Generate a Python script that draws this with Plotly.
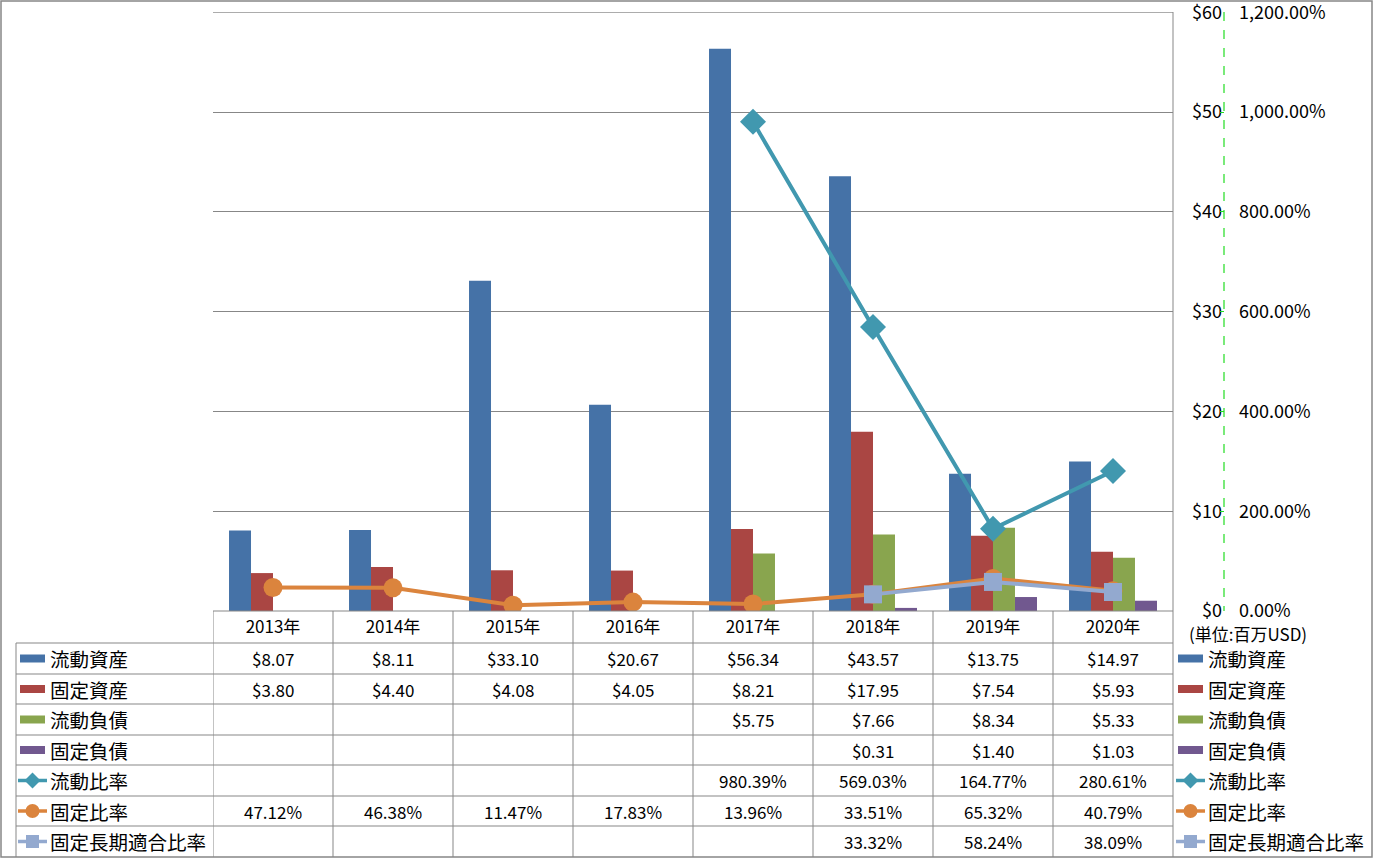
import plotly.graph_objects as go

W, H = 1373, 858

years = ["2013年", "2014年", "2015年", "2016年", "2017年", "2018年", "2019年", "2020年"]
current_assets = [8.07, 8.11, 33.10, 20.67, 56.34, 43.57, 13.75, 14.97]
fixed_assets = [3.80, 4.40, 4.08, 4.05, 8.21, 17.95, 7.54, 5.93]
current_liab = [None, None, None, None, 5.75, 7.66, 8.34, 5.33]
fixed_liab = [None, None, None, None, None, 0.31, 1.40, 1.03]
current_ratio = [None, None, None, None, 980.39, 569.03, 164.77, 280.61]
fixed_ratio = [47.12, 46.38, 11.47, 17.83, 13.96, 33.51, 65.32, 40.79]
fixed_lt_ratio = [None, None, None, None, None, 33.32, 58.24, 38.09]

usd_ticks = [0, 10, 20, 30, 40, 50, 60]
pct_ticks = [0, 200, 400, 600, 800, 1000, 1200]

names = ["流動資産", "固定資産", "流動負債", "固定負債", "流動比率", "固定比率", "固定長期適合比率"]
colors = ["#4572A7", "#AA4643", "#89A54E", "#71588F", "#4198AF", "#DB843D", "#93A9CF"]
unit_label = "(単位:百万USD)"

FONT = "Noto Sans CJK JP"
GRID = "#878787"

def px(x):
    return x / W

def py(y):
    return 1 - y / H

fig = go.Figure()
bar_series = [current_assets, fixed_assets, current_liab, fixed_liab]
for i, vals in enumerate(bar_series):
    fig.add_trace(go.Bar(x=years, y=vals, name=names[i], marker=dict(color=colors[i], line=dict(width=0)),
                         yaxis="y", showlegend=False))

line_series = [current_ratio, fixed_ratio, fixed_lt_ratio]
symbols = ["diamond", "circle", "square"]
msizes = [20, 19, 18]
for j, vals in enumerate(line_series):
    fig.add_trace(go.Scatter(x=years, y=vals, name=names[4 + j], mode="lines+markers",
                             line=dict(color=colors[4 + j], width=4),
                             marker=dict(symbol=symbols[j], size=msizes[j], color=colors[4 + j]),
                             yaxis="y2", showlegend=False, connectgaps=False))

shapes = []
annotations = []

# plot area geometry (pixels)
x0p, x1p = 213, 1173
ytop, ybot = 12, 611
axis_x = 1224
row_edges = [611, 643, 674, 704, 735, 765, 796, 826, 857]
line_style = dict(color=GRID, width=1)

# top gridline (at the max tick of the $ axis)
shapes.append(dict(type="line", xref="paper", yref="y", x0=px(x0p), x1=px(x1p), y0=usd_ticks[-1], y1=usd_ticks[-1],
                   line=line_style, layer="below"))
# table horizontal lines
shapes.append(dict(type="line", xref="paper", yref="paper", x0=px(x0p), x1=px(x1p), y0=py(611), y1=py(611), line=line_style))
for yy in row_edges[1:-1]:
    shapes.append(dict(type="line", xref="paper", yref="paper", x0=px(16), x1=px(x1p), y0=py(yy), y1=py(yy), line=line_style))
# table vertical lines at category boundaries
for k in range(len(years)):
    shapes.append(dict(type="line", xref="x", yref="paper", x0=k - 0.5, x1=k - 0.5, y0=py(611), y1=py(857), line=line_style))
shapes.append(dict(type="line", xref="paper", yref="paper", x0=px(x1p), x1=px(x1p), y0=py(ytop), y1=py(857), line=line_style))
shapes.append(dict(type="line", xref="paper", yref="paper", x0=px(16), x1=px(16), y0=py(643), y1=py(857), line=line_style))
# green dashed axis line
shapes.append(dict(type="line", xref="paper", yref="paper", x0=px(axis_x), x1=px(axis_x), y0=py(ytop), y1=py(ybot),
                   line=dict(color="#22DD22", width=1.2, dash="dash")))
# outer border
shapes.append(dict(type="rect", xref="paper", yref="paper", x0=px(1), x1=px(1372), y0=py(1), y1=py(857),
                   line=dict(color=GRID, width=1.5)))

row_centers = [(row_edges[i + 1] + row_edges[i + 2]) / 2 for i in range(7)]

def legend_symbol(xl, yc, idx):
    c = colors[idx]
    if idx < 4:
        shapes.append(dict(type="rect", xref="paper", yref="paper", x0=px(xl + 2), x1=px(xl + 27),
                           y0=py(yc - 4), y1=py(yc + 4), fillcolor=c, line=dict(width=0)))
    else:
        shapes.append(dict(type="line", xref="paper", yref="paper", x0=px(xl), x1=px(xl + 29),
                           y0=py(yc), y1=py(yc), line=dict(color=c, width=3.5)))
        cx = xl + 14.5
        if idx == 4:
            r = 8
            path = f"M {px(cx - r)} {py(yc)} L {px(cx)} {py(yc - r)} L {px(cx + r)} {py(yc)} L {px(cx)} {py(yc + r)} Z"
            shapes.append(dict(type="path", xref="paper", yref="paper", path=path, fillcolor=c, line=dict(width=0)))
        elif idx == 5:
            r = 7
            shapes.append(dict(type="circle", xref="paper", yref="paper", x0=px(cx - r), x1=px(cx + r),
                               y0=py(yc - r), y1=py(yc + r), fillcolor=c, line=dict(width=0)))
        else:
            r = 6.5
            shapes.append(dict(type="rect", xref="paper", yref="paper", x0=px(cx - r), x1=px(cx + r),
                               y0=py(yc - r), y1=py(yc + r), fillcolor=c, line=dict(width=0)))

all_series = bar_series + line_series
for i in range(7):
    yc = row_centers[i]
    legend_symbol(18, yc, i)
    legend_symbol(1176, yc, i)
    annotations.append(dict(text=names[i], xref="paper", yref="paper", x=px(48), y=py(yc), xanchor="left",
                            yanchor="middle", showarrow=False, font=dict(family=FONT, size=19.5, color="#000")))
    annotations.append(dict(text=names[i], xref="paper", yref="paper", x=px(1206), y=py(yc), xanchor="left",
                            yanchor="middle", showarrow=False, font=dict(family=FONT, size=19.5, color="#000")))
    for k, v in enumerate(all_series[i]):
        if v is None:
            continue
        txt = f"${v:.2f}" if i < 4 else f"{v:.2f}%"
        annotations.append(dict(text=txt, xref="x", yref="paper", x=years[k], y=py(yc), xanchor="center",
                                yanchor="middle", showarrow=False, font=dict(family=FONT, size=17, color="#000")))

annotations.append(dict(text=unit_label, xref="paper", yref="paper", x=px(1248), y=py(633), xanchor="center",
                        yanchor="middle", showarrow=False, font=dict(family=FONT, size=17, color="#000")))

fig.update_layout(
    width=W, height=H, autosize=False,
    margin=dict(l=0, r=0, t=0, b=0, pad=0, autoexpand=False),
    paper_bgcolor="white", plot_bgcolor="white",
    barmode="group", bargap=0.267, bargroupgap=0,
    font=dict(family=FONT, size=17, color="#000"),
    xaxis=dict(domain=[px(x0p), px(x1p)], type="category", range=[-0.5, 7.5], showgrid=False,
               showline=False, ticks="", tickfont=dict(family=FONT, size=17, color="#000"),
               ticklabelstandoff=4, anchor="y", automargin=False),
    yaxis=dict(domain=[py(ybot), py(ytop)], range=[0, 60.02], tickvals=usd_ticks,
               ticktext=[f"${v}" for v in usd_ticks], side="left",
               anchor="free", position=px(axis_x), showgrid=True, ticklabeloverflow="allow",
               gridcolor=GRID, gridwidth=1, zeroline=False, showline=False, ticks="", ticklabelstandoff=2,
               automargin=False, tickfont=dict(family=FONT, size=18, color="#000")),
    yaxis2=dict(domain=[py(ybot), py(ytop)], range=[0, 1200.4], tickvals=pct_ticks,
                ticktext=[f"{v:,.2f}%" for v in pct_ticks],
                overlaying="y", side="right", anchor="free", position=px(axis_x), showgrid=False,
                zeroline=False, showline=False, ticks="inside", ticklen=4, tickcolor="#22DD22",
                ticklabelstandoff=14, ticklabeloverflow="allow", automargin=False,
                tickfont=dict(family=FONT, size=18, color="#000")),
    shapes=shapes,
    annotations=annotations,
)

fig.write_html("out.html", config={"displayModeBar": False},
               post_script="document.body.style.margin='0';document.body.style.padding='0';")
